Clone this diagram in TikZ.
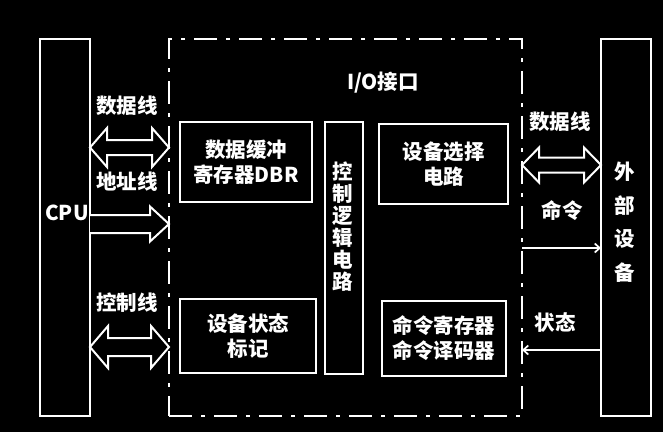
\documentclass[tikz,border=0pt]{standalone}
\usepackage{fontspec}
\setmainfont{Noto Sans CJK SC}
\usetikzlibrary{arrows.meta,calc}

\tikzset{
    box/.style={draw=white, line width=2.6pt, outer sep=0pt, inner sep=0pt, align=center,
        text=white, font=\bfseries\fontsize{20.5}{25}\selectfont},
    ioframe/.style={draw=white, line width=2.8pt, outer sep=0pt,
        dash pattern=on 23pt off 9pt on 4pt off 9pt},
    txt/.style={text=white, font=\bfseries\fontsize{20.5}{25}\selectfont, inner sep=0pt, align=center},
    vtxt/.style={txt, font=\bfseries\fontsize{20.5}{#1}\selectfont},
    blockarrow/.style={draw=white, fill=black, line width=2pt, line join=miter},
    thinarrow/.style={draw=white, line width=1.7pt, -{Straight Barb[length=5pt,width=9pt]}}
}

% #1,#2: end nodes, #3: centre y, #4: half head, #5: half shaft, #6: head length
\newcommand{\dblarrow}[6]{%
    \draw[blockarrow] let \p1=(#1), \p2=(#2) in
        (\x1,-#3pt) -- (\x1+#6pt,-#3pt+#4pt) -- (\x1+#6pt,-#3pt+#5pt)
        -- (\x2-#6pt,-#3pt+#5pt) -- (\x2-#6pt,-#3pt+#4pt) -- (\x2,-#3pt)
        -- (\x2-#6pt,-#3pt-#4pt) -- (\x2-#6pt,-#3pt-#5pt)
        -- (\x1+#6pt,-#3pt-#5pt) -- (\x1+#6pt,-#3pt-#4pt) -- cycle;
}
\newcommand{\sglarrow}[6]{%
    \draw[blockarrow] let \p1=(#1), \p2=(#2) in
        (\x1,-#3pt+#5pt) -- (\x2-#6pt,-#3pt+#5pt) -- (\x2-#6pt,-#3pt+#4pt) -- (\x2,-#3pt)
        -- (\x2-#6pt,-#3pt-#4pt) -- (\x2-#6pt,-#3pt-#5pt) -- (\x1,-#3pt-#5pt);
}

\begin{document}
\begin{tikzpicture}[x=1pt,y=-1pt]
    \useasboundingbox (0,0) rectangle (663,432);
    \fill[black] (0,0) rectangle (663,432);

    % the three units
    \node[box, minimum width=50pt, minimum height=377pt] (cpu) at (65,227.5) {};
    \node[ioframe, minimum width=353pt, minimum height=377pt] (io) at (345.5,227.5) {};
    \node[box, minimum width=50pt, minimum height=377pt] (dev) at (626,227.5) {};

    % bus arrows
    \dblarrow{cpu.east}{io.west}{147.5}{19.5}{7.5}{17}
    \sglarrow{cpu.east}{io.west}{224}{17.5}{9}{19}
    \dblarrow{cpu.east}{io.west}{347}{21}{9}{18}
    \dblarrow{io.east}{dev.west}{165}{17.5}{7.5}{17}
    \draw[thinarrow] (io.east |- 0,248) -- (dev.west |- 0,248);
    \draw[thinarrow] (dev.west |- 0,350) -- (io.east |- 0,350);

    % inside the interface
    \node[box, minimum width=132pt, minimum height=80pt] (dbr) at (246,162) {数据缓冲\\寄存器DBR};
    \node[box, minimum width=38pt, minimum height=252pt] (ctrl) at (344,248) {};
    \node[box, minimum width=129pt, minimum height=80pt] (sel) at (443.5,164) {设备选择\\电路};
    \node[box, minimum width=136pt, minimum height=74pt] (stat) at (248,336) {设备状态\\标记};
    \node[box, minimum width=124pt, minimum height=75pt] (cmd) at (444,338.5) {命令寄存器\\命令译码器};
    \node[vtxt=22] (ctrllbl) at (343,227) {控\\制\\逻\\辑\\电\\路};

    % labels
    \node[txt] (iolbl) at (383,83) {I/O接口};
    \node[txt] (cpulbl) at (67,213) {CPU};
    \node[vtxt=33.5] (devlbl) at (625,222) {外\\部\\设\\备};
    \node[txt] (ldata) at (127,106) {数据线};
    \node[txt] (laddr) at (127,182) {地址线};
    \node[txt] (lctrl) at (127,303) {控制线};
    \node[txt] (rdata) at (560,122) {数据线};
    \node[txt] (rcmd) at (562,211) {命令};
    \node[txt] (rstat) at (555,323) {状态};
\end{tikzpicture}
\end{document}
